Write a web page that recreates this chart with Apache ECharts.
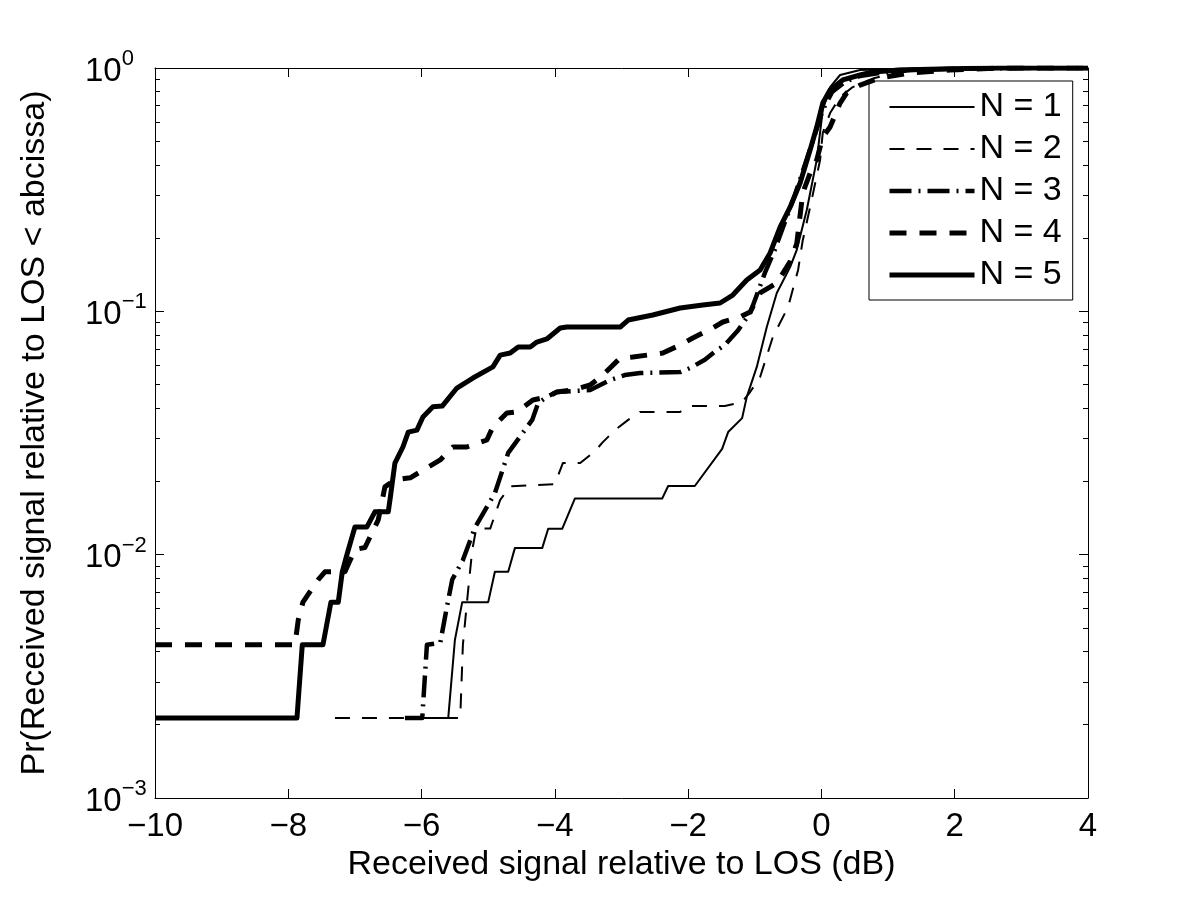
<!DOCTYPE html>
<html>
<head>
<meta charset="utf-8">
<script src="https://cdn.jsdelivr.net/npm/echarts@6/dist/echarts.min.js"></script>
<style>html,body{margin:0;padding:0;background:#fff;}#c{width:1200px;height:900px;}</style>
</head>
<body>
<div id="c"></div>
<script>
// ---- data ----
const seriesNames = ['N = 1', 'N = 2', 'N = 3', 'N = 4', 'N = 5'];
const xTicks = [-10, -8, -6, -4, -2, 0, 2, 4];
const yMajorTicks = [0.001, 0.01, 0.1, 1];
const yMinorTicks = [0.002, 0.003, 0.004, 0.005, 0.006, 0.007, 0.008, 0.009,
  0.02, 0.03, 0.04, 0.05, 0.06, 0.07, 0.08, 0.09,
  0.2, 0.3, 0.4, 0.5, 0.6, 0.7, 0.8, 0.9];

const n1 = [[-5.90,0.00213],[-5.60,0.00213],[-5.50,0.00446],[-5.39,0.00638],[-5.00,0.00638],[-4.90,0.00851],
  [-4.70,0.00851],[-4.60,0.01064],[-4.19,0.01064],[-4.10,0.01277],[-3.89,0.01277],[-3.70,0.0170],[-2.39,0.0170],
  [-2.30,0.01915],[-1.90,0.01915],[-1.49,0.0272],[-1.40,0.0319],[-1.19,0.0364],[-1.12,0.0445],[-0.97,0.0591],
  [-0.82,0.0862],[-0.67,0.119],[-0.47,0.152],[-0.37,0.179],[-0.22,0.261],[-0.07,0.419],[0.02,0.672],
  [0.13,0.835],[0.28,0.936],[0.58,0.981],[1.18,0.993],[2.08,1.0],[4.0,1.0]];

const n2 = [[-7.30,0.00213],[-5.42,0.00213],[-5.38,0.00426],[-5.30,0.0072],[-5.24,0.01045],[-5.18,0.0128],
  [-4.97,0.0128],[-4.82,0.0168],[-4.67,0.0191],[-4.00,0.0195],[-3.88,0.0238],[-3.62,0.0238],[-3.40,0.0266],
  [-3.28,0.0290],[-3.10,0.0325],[-2.90,0.0358],[-2.72,0.0386],[-2.12,0.0386],[-1.97,0.0408],[-1.45,0.0408],
  [-1.19,0.0424],[-1.07,0.0466],[-0.92,0.0537],[-0.73,0.0784],[-0.50,0.1042],[-0.35,0.148],[-0.28,0.196],
  [-0.17,0.268],[-0.02,0.419],[0.02,0.541],[0.13,0.653],[0.28,0.760],[0.47,0.835],[0.80,0.910],[1.18,0.963],
  [1.93,0.99],[2.70,1.0],[4.0,1.0]];

const n3 = [[-6.25,0.00213],[-5.99,0.00213],[-5.92,0.00426],[-5.72,0.00434],[-5.62,0.0061],[-5.54,0.0079],
  [-5.38,0.0095],[-5.20,0.0129],[-4.90,0.0179],[-4.70,0.0262],[-4.34,0.0358],[-4.25,0.0420],[-4.12,0.0445],
  [-3.97,0.0466],[-3.47,0.0475],[-3.17,0.0522],[-2.95,0.0547],[-2.72,0.0558],[-2.12,0.0563],[-1.97,0.0585],
  [-1.75,0.0632],[-1.60,0.0682],[-1.45,0.0727],[-1.25,0.0837],[-1.07,0.0984],[-0.97,0.1167],[-0.85,0.1435],
  [-0.70,0.179],[-0.55,0.232],[-0.40,0.300],[-0.25,0.399],[-0.10,0.530],[0.02,0.672],[0.16,0.797],
  [0.35,0.876],[0.58,0.927],[0.88,0.954],[1.33,0.981],[2.08,0.993],[2.98,1.0],[4.0,1.0]];

const n4 = [[-10,0.00426],[-7.90,0.00426],[-7.85,0.0054],[-7.78,0.00638],[-7.55,0.0079],[-7.45,0.0085],
  [-7.15,0.0085],[-7.00,0.0105],[-6.85,0.0107],[-6.65,0.0139],[-6.55,0.0190],[-6.40,0.0203],[-6.17,0.0207],
  [-5.72,0.0245],[-5.53,0.0277],[-5.32,0.0277],[-5.02,0.0296],[-4.93,0.0335],[-4.72,0.0382],[-4.57,0.0386],
  [-4.33,0.0432],[-4.12,0.0445],[-3.97,0.0466],[-3.73,0.0475],[-3.47,0.0498],[-3.28,0.0547],[-3.02,0.0643],
  [-2.83,0.0649],[-2.38,0.0674],[-2.12,0.0727],[-1.93,0.0777],[-1.63,0.0854],[-1.48,0.0904],[-1.22,0.0948],
  [-1.07,0.0994],[-0.92,0.119],[-0.67,0.1307],[-0.47,0.160],[-0.37,0.190],[-0.28,0.3065],[-0.17,0.370],
  [-0.07,0.419],[0.02,0.520],[0.13,0.572],[0.28,0.718],[0.38,0.790],[0.58,0.851],[0.88,0.910],[1.33,0.954],
  [1.93,0.981],[2.68,1.0],[4.0,1.0]];

const n5 = [[-10,0.00213],[-7.87,0.00213],[-7.79,0.00426],[-7.48,0.00426],[-7.36,0.00638],[-7.25,0.00638],
  [-7.19,0.0085],[-7.12,0.0100],[-7.00,0.0130],[-6.82,0.0130],[-6.70,0.0150],[-6.50,0.0150],[-6.47,0.0171],
  [-6.40,0.0238],[-6.28,0.0277],[-6.20,0.0319],[-6.07,0.0325],[-5.98,0.0368],[-5.83,0.0405],[-5.69,0.0408],
  [-5.47,0.0484],[-5.23,0.0532],[-4.93,0.0591],[-4.82,0.0661],[-4.67,0.0674],[-4.55,0.0714],[-4.37,0.0714],
  [-4.27,0.0748],[-4.12,0.0770],[-3.92,0.0854],[-3.82,0.0862],[-3.02,0.0862],[-2.90,0.0921],[-2.53,0.0966],
  [-2.12,0.1032],[-1.78,0.1062],[-1.52,0.1082],[-1.33,0.1167],[-1.12,0.1345],[-0.92,0.1478],[-0.77,0.1737],
  [-0.62,0.222],[-0.47,0.268],[-0.32,0.337],[-0.17,0.460],[-0.07,0.572],[0.02,0.718],[0.13,0.812],
  [0.32,0.893],[0.58,0.936],[0.77,0.963],[1.18,0.981],[1.93,0.993],[2.68,1.0],[4.0,1.0]];

const seriesData = [n1, n2, n3, n4, n5];

// ---- styles ----
const FONT = "'Liberation Sans', Arial, Helvetica, sans-serif";
const lineStyles = [
  { width: 2, type: 'solid' },
  { width: 2, type: [15, 12] },
  { width: 4.5, type: [22, 7, 2, 7] },
  { width: 5, type: [17, 13] },
  { width: 5, type: 'solid' }
];

const chart = echarts.init(document.getElementById('c'), null, { renderer: 'canvas' });

function yLabel(v) {
  const e = Math.round(Math.log10(v));
  const s = e === 0 ? '0' : '\u2212' + (-e);
  return '{b|10}{s|' + s + '}';
}
function xLabel(v) { return v < 0 ? '\u2212' + (-v) : String(v); }

const axisLine = { show: true, onZero: false, lineStyle: { color: '#000', width: 1 } };
const noLine = { show: false, onZero: false };
const majorTickX = { show: true, inside: true, length: 9, lineStyle: { color: '#000', width: 1 } };

const option = {
  animation: false,
  backgroundColor: '#fff',
  grid: { left: 155, right: 112, top: 68, bottom: 102, containLabel: false },
  legend: {
    data: seriesNames,
    orient: 'vertical',
    left: 869, top: 81,
    backgroundColor: '#fff',
    borderColor: '#000', borderWidth: 1, borderRadius: 0,
    padding: [9, 11, 8, 18],
    itemWidth: 85, itemHeight: 14, itemGap: 8,
    itemStyle: { opacity: 0 },
    lineStyle: { width: 'inherit', type: 'inherit', color: 'inherit' },
    textStyle: { fontFamily: FONT, fontSize: 34, color: '#000', lineHeight: 34 }
  },
  xAxis: [
    {
      type: 'value', min: xTicks[0], max: xTicks[xTicks.length - 1], interval: 2,
      position: 'bottom',
      axisLine: axisLine, axisTick: majorTickX, splitLine: { show: false },
      axisLabel: { formatter: xLabel, fontFamily: FONT, fontSize: 33, color: '#000', margin: 12 },
      name: 'Received signal relative to LOS (dB)', nameLocation: 'middle', nameGap: 50,
      nameTextStyle: { fontFamily: FONT, fontSize: 34, color: '#000' }
    },
    {
      type: 'value', min: xTicks[0], max: xTicks[xTicks.length - 1], interval: 2,
      position: 'top',
      axisLine: axisLine, axisTick: majorTickX, splitLine: { show: false },
      axisLabel: { show: false }
    }
  ],
  yAxis: [
    {
      type: 'log', logBase: 10, min: yMajorTicks[0], max: yMajorTicks[yMajorTicks.length - 1],
      position: 'left',
      axisLine: axisLine,
      axisTick: { show: true, inside: true, length: 9, lineStyle: { color: '#000' } },
      splitLine: { show: false },
      axisLabel: {
        formatter: yLabel, align: 'left', margin: 70, color: '#000',
        rich: {
          b: { fontFamily: FONT, fontSize: 33, color: '#000', verticalAlign: 'bottom', lineHeight: 40 },
          s: { fontFamily: FONT, fontSize: 22, color: '#000', verticalAlign: 'top', lineHeight: 40 }
        }
      },
      name: 'Pr(Received signal relative to LOS < abcissa)', nameLocation: 'middle', nameGap: 103,
      nameTextStyle: { fontFamily: FONT, fontSize: 34, color: '#000' }
    },
    {
      type: 'log', logBase: 10, min: yMajorTicks[0], max: yMajorTicks[yMajorTicks.length - 1],
      position: 'right',
      axisLine: axisLine,
      axisTick: { show: true, inside: true, length: 9, lineStyle: { color: '#000' } },
      splitLine: { show: false }, axisLabel: { show: false }
    },
    {
      type: 'log', logBase: 10, min: yMajorTicks[0], max: yMajorTicks[yMajorTicks.length - 1],
      position: 'left',
      axisLine: noLine,
      axisTick: { show: true, inside: true, length: 5, customValues: yMinorTicks, lineStyle: { color: '#000' } },
      splitLine: { show: false }, axisLabel: { show: false }
    },
    {
      type: 'log', logBase: 10, min: yMajorTicks[0], max: yMajorTicks[yMajorTicks.length - 1],
      position: 'right',
      axisLine: noLine,
      axisTick: { show: true, inside: true, length: 5, customValues: yMinorTicks, lineStyle: { color: '#000' } },
      splitLine: { show: false }, axisLabel: { show: false }
    }
  ],
  series: seriesNames.map((name, i) => ({
    name: name,
    type: 'line',
    xAxisIndex: 0, yAxisIndex: 0,
    data: seriesData[i],
    symbol: 'none', showSymbol: false,
    clip: true,
    lineStyle: { color: '#000', width: lineStyles[i].width, type: lineStyles[i].type, cap: 'butt', join: 'round' },
    itemStyle: { color: '#000' },
    z: 2 + i
  }))
};

chart.setOption(option);
</script>
</body>
</html>
